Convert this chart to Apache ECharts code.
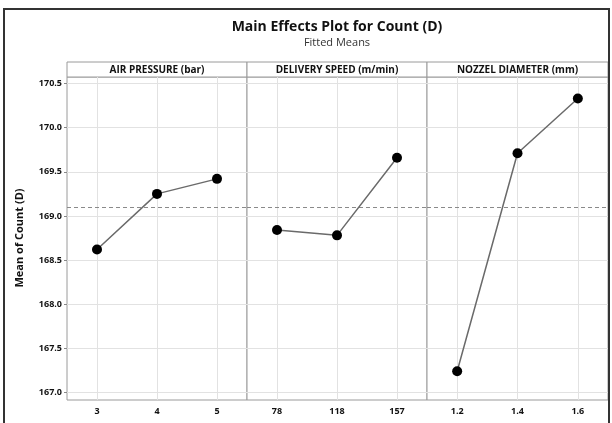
<!DOCTYPE html>
<html>
<head>
<meta charset="utf-8">
<script src="https://cdn.jsdelivr.net/npm/echarts@6/dist/echarts.min.js"></script>
<style>html,body{margin:0;padding:0;background:#fff;}#c{width:612px;height:423px;}</style>
</head>
<body>
<div id="c"></div>
<script>
var panelNames = ['AIR PRESSURE (bar)', 'DELIVERY SPEED (m/min)', 'NOZZEL DIAMETER (mm)'];
var airCats = ['3', '4', '5'];
var speedCats = ['78', '118', '157'];
var nozzleCats = ['1.2', '1.4', '1.6'];
var airMeans = [168.62, 169.25, 169.42];
var speedMeans = [168.84, 168.78, 169.66];
var nozzleMeans = [167.24, 169.71, 170.33];
var overallMean = 169.10;
var yTicks = [167.0, 167.5, 168.0, 168.5, 169.0, 169.5, 170.0, 170.5];
var yMin = 166.915, yMax = 170.574;

var cats = [airCats, speedCats, nozzleCats];
var means = [airMeans, speedMeans, nozzleMeans];

var FONT = 'Open Sans';
var lefts = [67, 247, 427];
var widths = [180, 180, 181];
var gridTop = 77, gridBottom = 23, stripTop = 62, stripH = 15;

var chart = echarts.init(document.getElementById('c'), null, {renderer: 'canvas'});

var grids = [], xAxes = [], yAxes = [], series = [], graphics = [];
for (var i = 0; i < 3; i++) {
  grids.push({left: lefts[i], width: widths[i], top: gridTop, bottom: gridBottom,
    show: true, borderColor: '#9a9a9a', borderWidth: 1, backgroundColor: '#fff', containLabel: false});
  xAxes.push({type: 'category', gridIndex: i, data: cats[i], boundaryGap: true,
    axisLine: {show: false}, axisTick: {show: false}, splitLine: {show: false},
    axisLabel: {color: '#111', fontFamily: FONT, fontWeight: 'bold', fontSize: 9, margin: 7}});
  yAxes.push({type: 'value', gridIndex: i, min: yMin, max: yMax,
    axisLine: {show: false}, splitLine: {show: false},
    axisTick: {show: i === 0, length: 3, customValues: yTicks, lineStyle: {color: '#888'}},
    axisLabel: {show: i === 0, customValues: yTicks, color: '#111', fontFamily: FONT, fontWeight: 'bold', fontSize: 9, margin: 5,
      formatter: function (v) { return v.toFixed(1); }}});
  var gl = yTicks.map(function (t) { return {yAxis: t}; });
  cats[i].forEach(function (c) { gl.push({xAxis: c}); });
  series.push({type: 'line', xAxisIndex: i, yAxisIndex: i, data: cats[i].map(function(){return null;}), z: 0,
    silent: true, symbol: 'none',
    markLine: {silent: true, symbol: 'none', label: {show: false}, animation: false,
      lineStyle: {color: '#e2e2e2', width: 1, type: 'solid'}, data: gl}});
  series.push({type: 'line', xAxisIndex: i, yAxisIndex: i, data: cats[i].map(function(){return null;}), z: 1,
    silent: true, symbol: 'none',
    markLine: {silent: true, symbol: 'none', label: {show: false}, animation: false,
      lineStyle: {color: '#8a8a8a', width: 1, type: [4, 3]}, data: [{yAxis: overallMean}]}});
  series.push({type: 'line', xAxisIndex: i, yAxisIndex: i, data: means[i], z: 10,
    symbol: 'circle', symbolSize: 10, itemStyle: {color: '#000', borderWidth: 0},
    lineStyle: {color: '#6a6a6a', width: 1.5}, animation: false});
  graphics.push({type: 'rect', shape: {x: lefts[i], y: stripTop, width: widths[i], height: stripH},
    style: {fill: '#fff', stroke: '#9a9a9a', lineWidth: 1}});
  graphics.push({type: 'text', x: lefts[i] + widths[i] / 2, y: stripTop + stripH / 2 + 0.5,
    style: {text: panelNames[i], fill: '#111', font: 'bold 10px "' + FONT + '"', textAlign: 'center', textVerticalAlign: 'middle'}});
}
graphics.push({type: 'rect', shape: {x: 4, y: 9, width: 605, height: 440}, style: {fill: 'none', stroke: '#333', lineWidth: 2}, z: 100});
graphics.push({type: 'text', x: 337, y: 27, style: {text: 'Main Effects Plot for Count (D)', fill: '#111', font: 'bold 14px "' + FONT + '"', textAlign: 'center', textVerticalAlign: 'middle'}});
graphics.push({type: 'text', x: 337, y: 43, style: {text: 'Fitted Means', fill: '#333', font: '11px "' + FONT + '"', textAlign: 'center', textVerticalAlign: 'middle'}});
graphics.push({type: 'text', x: 20, y: 238, rotation: Math.PI / 2, style: {text: 'Mean of Count (D)', fill: '#111', font: 'bold 11px "' + FONT + '"', textAlign: 'center', textVerticalAlign: 'middle'}});

chart.setOption({
  animation: false,
  backgroundColor: '#fff',
  grid: grids, xAxis: xAxes, yAxis: yAxes, series: series, graphic: graphics
});
</script>
</body>
</html>
